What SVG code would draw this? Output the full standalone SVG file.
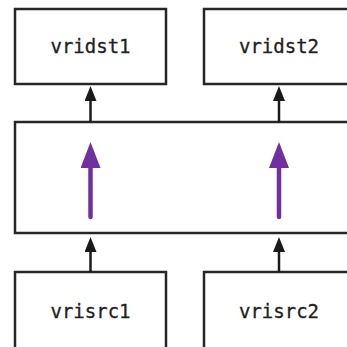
<svg xmlns="http://www.w3.org/2000/svg" width="347" height="347" viewBox="0 0 347 347">
  <style>
    .box { fill: #ffffff; stroke: #262626; stroke-width: 2.5; }
    .label { font-family: "DejaVu Sans Mono", "Liberation Mono", monospace; font-size: 19px; fill: #222222; stroke: #222222; stroke-width: 0.3; text-anchor: middle; }
    .link { stroke: #1a1a1a; stroke-width: 2.5; fill: none; }
    .flow { stroke: #7030a0; stroke-width: 4.5; stroke-linecap: round; fill: none; }
  </style>
  <defs>
    <marker id="head" viewBox="0 0 15 12" refX="0" refY="6" markerWidth="15" markerHeight="12" markerUnits="userSpaceOnUse" orient="auto">
      <path d="M0,0 L15,6 L0,12 Z" fill="#1a1a1a"/>
    </marker>
    <marker id="flowHead" viewBox="0 0 26 20" refX="0" refY="10" markerWidth="26" markerHeight="20" markerUnits="userSpaceOnUse" orient="auto">
      <path d="M0,0 L26,10 L0,20 Z" fill="#7030a0"/>
    </marker>
  </defs>

  <rect width="347" height="347" fill="#ffffff"/>

  <!-- destination boxes -->
  <g id="vridst1">
    <rect class="box" x="15" y="9" width="151" height="75"/>
    <text class="label" x="90.5" y="53">vridst1</text>
  </g>
  <g id="vridst2">
    <rect class="box" x="204" y="9" width="151" height="75"/>
    <text class="label" x="279" y="53">vridst2</text>
  </g>

  <!-- shared middle stage -->
  <g id="middle">
    <rect class="box" x="15" y="122" width="345" height="111"/>
  </g>

  <!-- source boxes -->
  <g id="vrisrc1">
    <rect class="box" x="15" y="272" width="151" height="90"/>
    <text class="label" x="90.5" y="318">vrisrc1</text>
  </g>
  <g id="vrisrc2">
    <rect class="box" x="204" y="272" width="151" height="90"/>
    <text class="label" x="279" y="318">vrisrc2</text>
  </g>

  <!-- connectors -->
  <g id="connectors">
    <line class="link" x1="90.5" y1="122" x2="90.5" y2="101" marker-end="url(#head)"/>
    <line class="link" x1="279" y1="122" x2="279" y2="101" marker-end="url(#head)"/>
    <line class="link" x1="90.5" y1="272" x2="90.5" y2="252" marker-end="url(#head)"/>
    <line class="link" x1="279" y1="272" x2="279" y2="252" marker-end="url(#head)"/>
    <line class="flow" x1="90.5" y1="217" x2="90.5" y2="168" marker-end="url(#flowHead)"/>
    <line class="flow" x1="279" y1="217" x2="279" y2="168" marker-end="url(#flowHead)"/>
  </g>
</svg>
